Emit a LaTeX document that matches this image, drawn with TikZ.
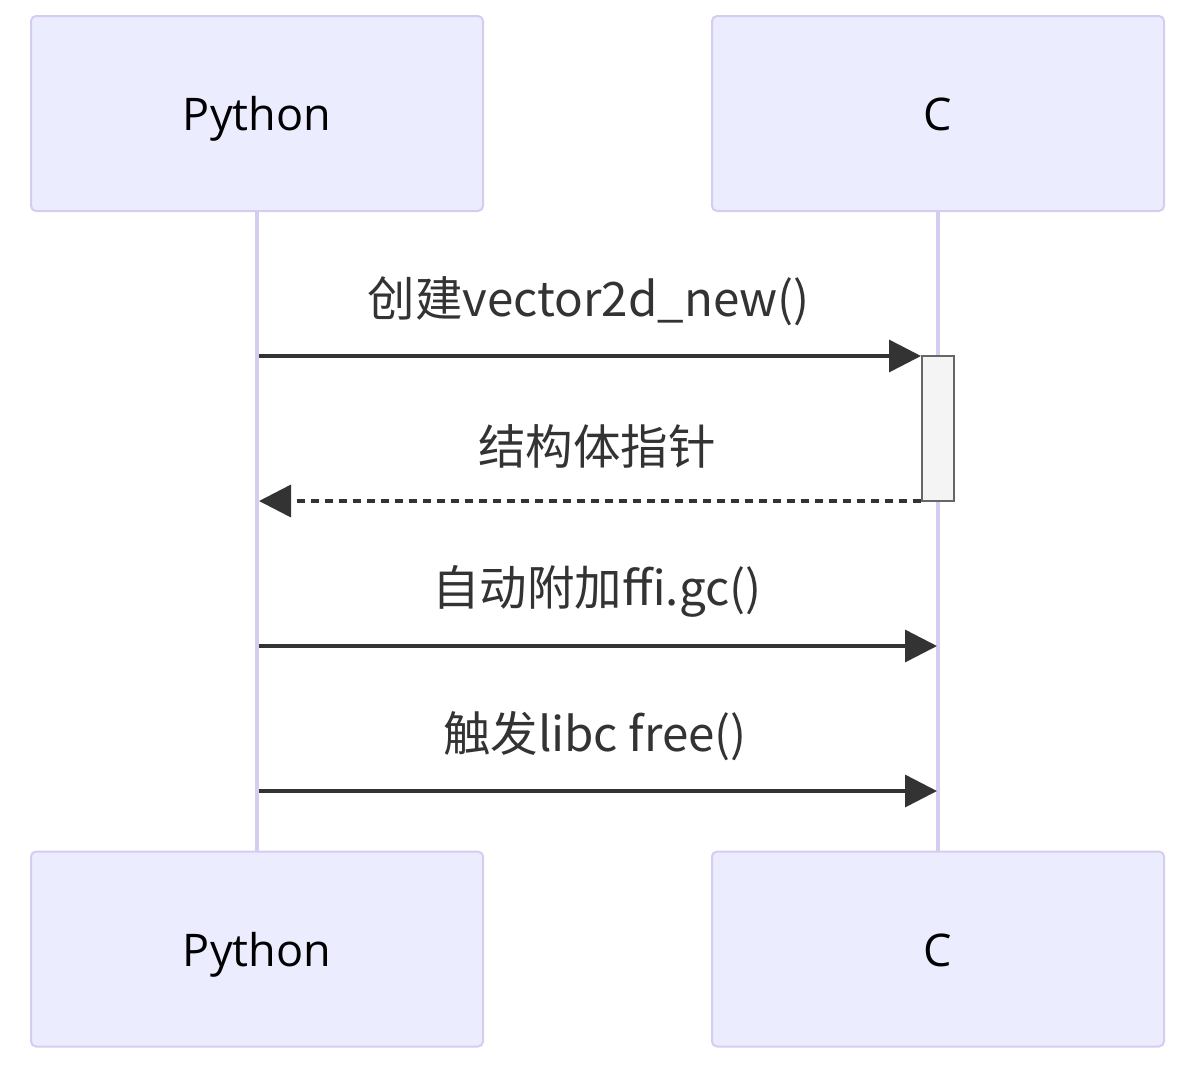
\documentclass[tikz,border=0pt]{standalone}
\usepackage{fontspec}
\setmainfont{Open Sans}
\newfontfamily\cjk{Noto Sans CJK SC}
\usetikzlibrary{arrows.meta}
\definecolor{actfill}{HTML}{ECECFF}
\definecolor{actline}{HTML}{D6CCF2}
\definecolor{msgc}{HTML}{333333}
\definecolor{actvfill}{HTML}{F4F4F4}
\definecolor{actvline}{HTML}{666666}
\tikzset{
  actor/.style={draw=actline, fill=actfill, line width=2pt, rounded corners=5pt,
    minimum width=452pt, minimum height=195pt, inner sep=0pt,
    text height=34pt, text depth=0pt,
    font=\fontsize{45}{54}\selectfont, text=black},
  life/.style={draw=actline, line width=4.5pt},
  msg/.style={draw=msgc, line width=3.5pt, -{Triangle[length=32pt,width=32pt]}},
  ret/.style={msg, dash pattern=on 8pt off 6pt},
  lbl/.style={text=msgc, font=\cjk\fontsize{47.5}{56}\selectfont, inner sep=0pt},
  activ/.style={draw=actvline, fill=actvfill, line width=2pt, minimum width=32pt, minimum height=145pt, inner sep=0pt}
}
\begin{document}
\begin{tikzpicture}[x=1pt,y=-1pt]
\useasboundingbox (0,0) rectangle (1191,1066);
\node[actor] (pt) at (257,113.5) {Python};
\node[actor] (ct) at (938,113.5) {C};
\node[actor] (pb) at (257,949) {Python};
\node[actor] (cb) at (938,949) {C};
\draw[life] (pt.south) -- (pb.north);
\draw[life] (ct.south) -- (cb.north);
\node[activ] (act) at (938,428.5) {};
\coordinate (p1) at (259,356);
\coordinate (p2) at (259,501);
\coordinate (p3) at (259,646);
\coordinate (c3) at (937,646);
\coordinate (p4) at (259,791);
\coordinate (c4) at (937,791);
\draw[msg] (p1) -- (p1 -| act.west);
\draw[ret] (p2 -| act.west) -- (p2);
\draw[msg] (p3) -- (c3);
\draw[msg] (p4) -- (c4);
\node[lbl] (l1) at (589,301) {创建vector2d\_new()};
\node[lbl] (l2) at (597,446) {结构体指针};
\node[lbl] (l3) at (597,591) {自动附加ffi.gc()};
\node[lbl] (l4) at (595,736) {触发libc free()};
\end{tikzpicture}
\end{document}
